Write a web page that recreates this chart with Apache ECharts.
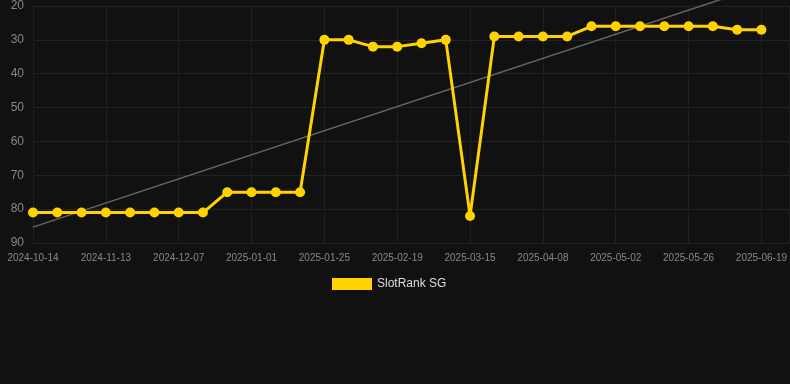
<!DOCTYPE html>
<html>
<head>
<meta charset="utf-8">
<script src="https://cdn.jsdelivr.net/npm/echarts@6/dist/echarts.min.js"></script>
<style>
html,body{margin:0;padding:0;background:#111111;}
#chart{width:790px;height:384px;}
</style>
</head>
<body>
<div id="chart"></div>
<script>
const categories = [
  '2024-10-14','2024-10-24','2024-11-03','2024-11-13','2024-11-21','2024-11-29',
  '2024-12-07','2024-12-15','2024-12-23','2025-01-01','2025-01-09','2025-01-17',
  '2025-01-25','2025-02-02','2025-02-10','2025-02-19','2025-02-27','2025-03-07',
  '2025-03-15','2025-03-23','2025-03-31','2025-04-08','2025-04-16','2025-04-24',
  '2025-05-02','2025-05-10','2025-05-18','2025-05-26','2025-06-03','2025-06-11',
  '2025-06-19'
];
const rankValues = [81,81,81,81,81,81,81,81,75,75,75,75,30,30,32,32,31,30,82,29,29,29,29,26,26,26,26,26,26,27,27];
const trendValues = [85.3, 14.1];
const yTicks = [20,30,40,50,60,70,80,90];

const lastIdx = categories.length - 1;
const rankData = rankValues.map((v, i) => [i, v]);
const trendData = [[0, trendValues[0]], [lastIdx, trendValues[1]]];

const chart = echarts.init(document.getElementById('chart'));
chart.setOption({
  backgroundColor: '#111111',
  animation: false,
  grid: { left: 33, right: 0, top: 6, bottom: 141, containLabel: false },
  legend: {
    data: ['SlotRank SG'],
    top: 273,
    left: 327,
    itemWidth: 40,
    itemHeight: 12,
    icon: 'rect',
    textStyle: { color: '#dddddd', fontSize: 12, fontFamily: 'Arial, Liberation Sans, sans-serif' }
  },
  xAxis: {
    type: 'value',
    min: 0,
    max: lastIdx + 1.15,
    interval: 3,
    axisLine: { show: false },
    axisTick: { show: false },
    axisLabel: {
      color: '#888888', fontSize: 10, margin: 10, showMaxLabel: false,
      fontFamily: 'Arial, Liberation Sans, sans-serif',
      formatter: function (v) {
        return (Number.isInteger(v) && v % 3 === 0 && categories[v]) ? categories[v] : '';
      }
    },
    splitLine: { show: true, lineStyle: { color: '#1f1f1f', width: 1 } }
  },
  yAxis: {
    type: 'value',
    inverse: true,
    min: yTicks[0],
    max: yTicks[yTicks.length - 1],
    interval: 10,
    axisLine: { show: false },
    axisTick: { show: false },
    axisLabel: { color: '#888888', fontSize: 12, margin: 9, fontFamily: 'Arial, Liberation Sans, sans-serif' },
    splitLine: { show: true, lineStyle: { color: '#222222', width: 1 } }
  },
  series: [
    {
      name: 'trend',
      type: 'line',
      data: trendData,
      showSymbol: false,
      symbol: 'none',
      clip: false,
      lineStyle: { color: '#666666', width: 1.5 },
      silent: true,
      z: 1
    },
    {
      name: 'SlotRank SG',
      type: 'line',
      data: rankData,
      symbol: 'circle',
      symbolSize: 10,
      itemStyle: { color: '#ffd200' },
      lineStyle: { color: '#ffd200', width: 3 },
      z: 2
    }
  ]
});
</script>
</body>
</html>
